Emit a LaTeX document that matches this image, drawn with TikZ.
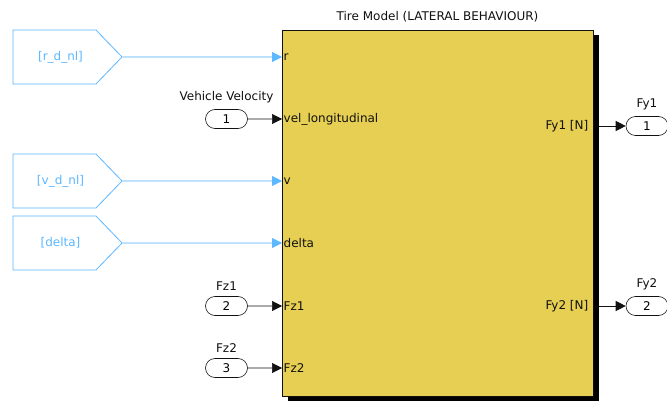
\documentclass[tikz,border=0pt]{standalone}
\usepackage{fontspec}
\setmainfont{DejaVu Sans}
\usepackage{tikz}
\usetikzlibrary{arrows.meta,positioning,shapes.symbols,shapes.misc}
\definecolor{blockyellow}{HTML}{E6CF52}
\definecolor{tagblue}{HTML}{5CB8FF}
\definecolor{inkgrey}{HTML}{111111}
\tikzset{
  lbl/.style={inner sep=0pt,font=\fontsize{12}{14}\selectfont,text=inkgrey},
  tagbox/.style={signal,signal to=east,signal pointer angle=92,draw=tagblue,thick,text=tagblue,minimum width=109pt,minimum height=54pt,inner sep=0pt,font=\fontsize{12}{14}\selectfont,execute at begin node=\hspace*{12pt}},
  portbox/.style={rounded rectangle,draw=inkgrey,semithick,minimum width=42pt,minimum height=19pt,inner sep=0pt,font=\fontsize{12}{14}\selectfont},
  tmblock/.style={rectangle,draw=inkgrey,line width=0.8pt,fill=blockyellow,minimum width=311pt,minimum height=366pt,inner sep=0pt},
  tmshade/.style={rectangle,fill=black,minimum width=311pt,minimum height=366pt,inner sep=0pt},
  portlbl/.style={lbl,inner xsep=1.5pt},
  sigarrow/.style={-{Triangle[length=10pt,width=10pt]},semithick,draw=inkgrey},
  tagarrow/.style={-{Triangle[length=10pt,width=10pt]},thick,draw=tagblue,fill=tagblue}
}

\begin{document}
\begin{tikzpicture}[x=1pt,y=-1pt]
  \useasboundingbox[fill=white] (0,0) rectangle (667,401);

  % subsystem block with its shadow
  \node[tmshade, anchor=north west] (tmshadow) at (288,35) {};
  \node[tmblock, anchor=north west] (tm) at (282,30) {};
  \node[lbl, anchor=base] (tmtitle) at (437.5,21) {Tire Model (LATERAL BEHAVIOUR)};

  % input ports
  \node[portlbl, anchor=west] (pr) at (282,57) {r};
  \node[portlbl, anchor=west] (pvel) at (282,119) {vel\_longitudinal};
  \node[portlbl, anchor=west] (pv) at (282,181) {v};
  \node[portlbl, anchor=west] (pdelta) at (282,243) {delta};
  \node[portlbl, anchor=west] (pfz1) at (282,306) {Fz1};
  \node[portlbl, anchor=west] (pfz2) at (282,368) {Fz2};

  % output ports
  \node[portlbl, anchor=east] (pfy1) at (590,126) {Fy1 [N]};
  \node[portlbl, anchor=east] (pfy2) at (590,306) {Fy2 [N]};

  % from tags
  \node[tagbox] (tagr) at (54.5,57) {[r\_d\_nl]};
  \node[tagbox] (tagv) at (54.5,181) {[v\_d\_nl]};
  \node[tagbox] (tagdelta) at (54.5,243) {[delta]};

  % inports
  \node[portbox] (in1) at (226.5,119) {1};
  \node[lbl, above=6pt of in1] (in1lbl) {Vehicle Velocity};
  \node[portbox] (in2) at (226.5,306) {2};
  \node[lbl, above=6pt of in2] (in2lbl) {Fz1};
  \node[portbox] (in3) at (226.5,368) {3};
  \node[lbl, above=6pt of in3] (in3lbl) {Fz2};

  % outports
  \node[portbox] (out1) at (647,126) {1};
  \node[lbl, above=6pt of out1] (out1lbl) {Fy1};
  \node[portbox] (out2) at (647,306) {2};
  \node[lbl, above=6pt of out2] (out2lbl) {Fy2};

  \draw[tagarrow] (tagr) -- (pr.west);
  \draw[tagarrow] (tagv) -- (pv.west);
  \draw[tagarrow] (tagdelta) -- (pdelta.west);
  \draw[sigarrow] (in1) -- (pvel.west);
  \draw[sigarrow] (in2) -- (pfz1.west);
  \draw[sigarrow] (in3) -- (pfz2.west);
  \draw[sigarrow] (tmshadow.east |- pfy1) -- (out1);
  \draw[sigarrow] (tmshadow.east |- pfy2) -- (out2);
\end{tikzpicture}
\end{document}
